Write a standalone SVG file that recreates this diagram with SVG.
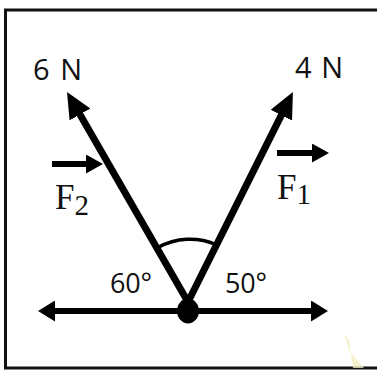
<svg xmlns="http://www.w3.org/2000/svg" width="377" height="370" viewBox="0 0 377 370">
<style>
.shaft{stroke:#000;fill:none;stroke-linecap:butt}
.lbl{font-family:"Open Sans","DejaVu Sans",sans-serif;font-size:29px;font-weight:500;fill:#111}
.fl{font-family:"Liberation Serif","DejaVu Serif",serif;fill:#111}
</style>
<defs>
<marker id="big" viewBox="0 0 26 24" markerUnits="userSpaceOnUse" markerWidth="26" markerHeight="24" refX="13" refY="12" orient="auto"><path d="M0,0 L26,12 L0,24 Z" fill="#000"/></marker>
<marker id="mid" viewBox="0 0 17 21" markerUnits="userSpaceOnUse" markerWidth="17" markerHeight="21" refX="9" refY="10.5" orient="auto-start-reverse"><path d="M0,0 L17,10.5 L0,21 Z" fill="#000"/></marker>
<marker id="sm" viewBox="0 0 17 19" markerUnits="userSpaceOnUse" markerWidth="17" markerHeight="19" refX="8" refY="9.5" orient="auto"><path d="M0,0 L17,9.5 L0,19 Z" fill="#000"/></marker>
</defs>
<rect width="377" height="370" fill="#fff"/>
<path d="M377,10 H5.5 V368 H377" fill="none" stroke="#111" stroke-width="3"/>
<polygon points="344,334 349,340 353,368 364,368 350,352" fill="#f2ecc2" opacity="0.8"/>
<g id="connectors">
<line class="shaft" x1="188" y1="302" x2="73.5" y2="103.2" stroke-width="7" marker-end="url(#big)"/>
<line class="shaft" x1="188" y1="302" x2="287.1" y2="103.6" stroke-width="7" marker-end="url(#big)"/>
<line class="shaft" x1="46" y1="311" x2="320" y2="311" stroke-width="6" marker-start="url(#mid)" marker-end="url(#mid)"/>
<line class="shaft" x1="52" y1="164" x2="94" y2="164" stroke-width="6" marker-end="url(#sm)"/>
<line class="shaft" x1="277" y1="153" x2="320" y2="153" stroke-width="6" marker-end="url(#sm)"/>
<path class="shaft" d="M158,247.5 A66,66 0 0 1 216,244.5" stroke-width="3.5"/>
</g>
<g id="origin"><ellipse cx="188" cy="311" rx="11" ry="12.5" fill="#000"/></g>
<g id="force6N"><text class="lbl" x="33" y="80" textLength="49" lengthAdjust="spacing">6 N</text></g>
<g id="force4N"><text class="lbl" x="295" y="78" textLength="48" lengthAdjust="spacing">4 N</text></g>
<g id="labelF2"><text class="fl" x="55" y="209" font-size="35">F<tspan font-size="29" dy="6">2</tspan></text></g>
<g id="labelF1"><text class="fl" x="277" y="199" font-size="35">F<tspan font-size="29" dy="5">1</tspan></text></g>
<g id="angle60"><text class="lbl" x="110" y="293" textLength="42" lengthAdjust="spacing" style="font-size:27px">60°</text></g>
<g id="angle50"><text class="lbl" x="225" y="293" textLength="42" lengthAdjust="spacing" style="font-size:27px">50°</text></g>
</svg>
